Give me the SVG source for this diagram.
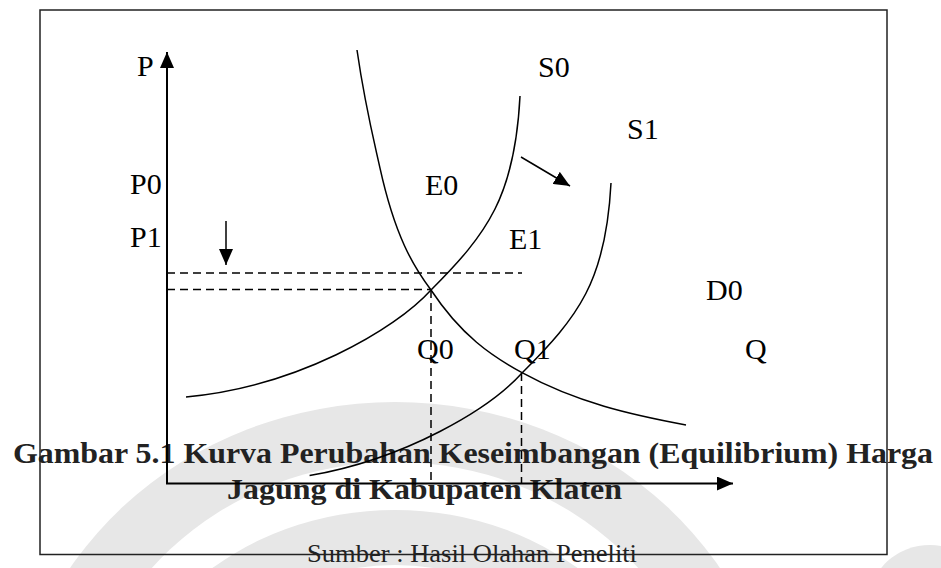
<svg xmlns="http://www.w3.org/2000/svg" width="941" height="568" viewBox="0 0 941 568">
<defs>
<marker id="arr" viewBox="0 0 16 14" refX="16" refY="7" markerWidth="16" markerHeight="14" markerUnits="userSpaceOnUse" orient="auto"><path d="M0,0 L16,7 L0,14 z" fill="#000"/></marker>
<style>
.lbl{font-family:"Liberation Serif","Times New Roman",serif;font-size:30px;fill:#000}
.cap{font-family:"Liberation Serif","Times New Roman",serif;font-size:30px;font-weight:bold;fill:#222}
.src{font-family:"Liberation Serif","Times New Roman",serif;font-size:26px;fill:#222}
.curve{fill:none;stroke:#000;stroke-width:1.5}
.dash{fill:none;stroke:#000;stroke-width:1.5;stroke-dasharray:8 5}
.axis{fill:none;stroke:#000;stroke-width:2}
.wm{fill:#e7e7e7}
.wmw{fill:#fff}
</style>
</defs>
<rect width="941" height="568" fill="#fff"/>
<g id="watermark">
<ellipse class="wm" cx="395" cy="760" rx="385" ry="358"/>
<ellipse class="wmw" cx="395" cy="760" rx="318" ry="298"/>
<ellipse class="wm" cx="395" cy="760" rx="285" ry="250"/>
<ellipse class="wmw" cx="395" cy="760" rx="220" ry="195"/>
<ellipse class="wm" cx="930" cy="600" rx="60" ry="55"/>
</g>
<g id="caption">
<text class="cap" x="13" y="463" textLength="920" lengthAdjust="spacingAndGlyphs">Gambar 5.1 Kurva Perubahan Keseimbangan (Equilibrium) Harga</text>
<text class="cap" x="227" y="499" textLength="395" lengthAdjust="spacingAndGlyphs">Jagung di Kabupaten Klaten</text>
<text class="src" x="307" y="562" textLength="330" lengthAdjust="spacingAndGlyphs">Sumber : Hasil Olahan Peneliti</text>
</g>
<g id="labels">
<text class="lbl" x="137" y="76">P</text>
<text class="lbl" x="538" y="77">S0</text>
<text class="lbl" x="627" y="139">S1</text>
<text class="lbl" x="130" y="194">P0</text>
<text class="lbl" x="425" y="195">E0</text>
<text class="lbl" x="130" y="247">P1</text>
<text class="lbl" x="509" y="249">E1</text>
<text class="lbl" x="706" y="300">D0</text>
<text class="lbl" x="417" y="359">Q0</text>
<text class="lbl" x="514" y="359">Q1</text>
<text class="lbl" x="745" y="359">Q</text>
</g>
<g id="frame">
<rect x="40" y="10" width="847" height="544.5" fill="none" stroke="#222" stroke-width="1.5"/>
</g>
<g id="axes">
<path class="axis" d="M167,484 V52" marker-end="url(#arr)"/>
<path class="axis" d="M166,483.5 H733" marker-end="url(#arr)"/>
</g>
<g id="curves">
<path id="D0" class="curve" d="M357,50 C364.7,103.5 372.3,133.7 380,168.2 C395,236 413,266 431,290 C461.3,335.7 491.7,356.1 522,372.7 C576.7,402.7 631.3,414.8 686,425"/>
<path id="S0" class="curve" d="M186,397 C296,387 395,330 431,290 C487.6,233.4 515,196 520,96"/>
<path id="S1" class="curve" d="M309.6,475.6 C406.2,458.8 489.6,409 522,373 C578.6,316.4 606,281 611,183"/>
</g>
<g id="connectors">
<path class="dash" d="M167,273 H522"/>
<path class="dash" d="M167,289.5 H431"/>
<path class="dash" d="M431,290 V483"/>
<path class="dash" d="M521.5,373 V483"/>
<path class="curve" d="M521,157 L570,186" marker-end="url(#arr)"/>
<path class="curve" d="M226,221 V265" marker-end="url(#arr)"/>
</g>
</svg>
